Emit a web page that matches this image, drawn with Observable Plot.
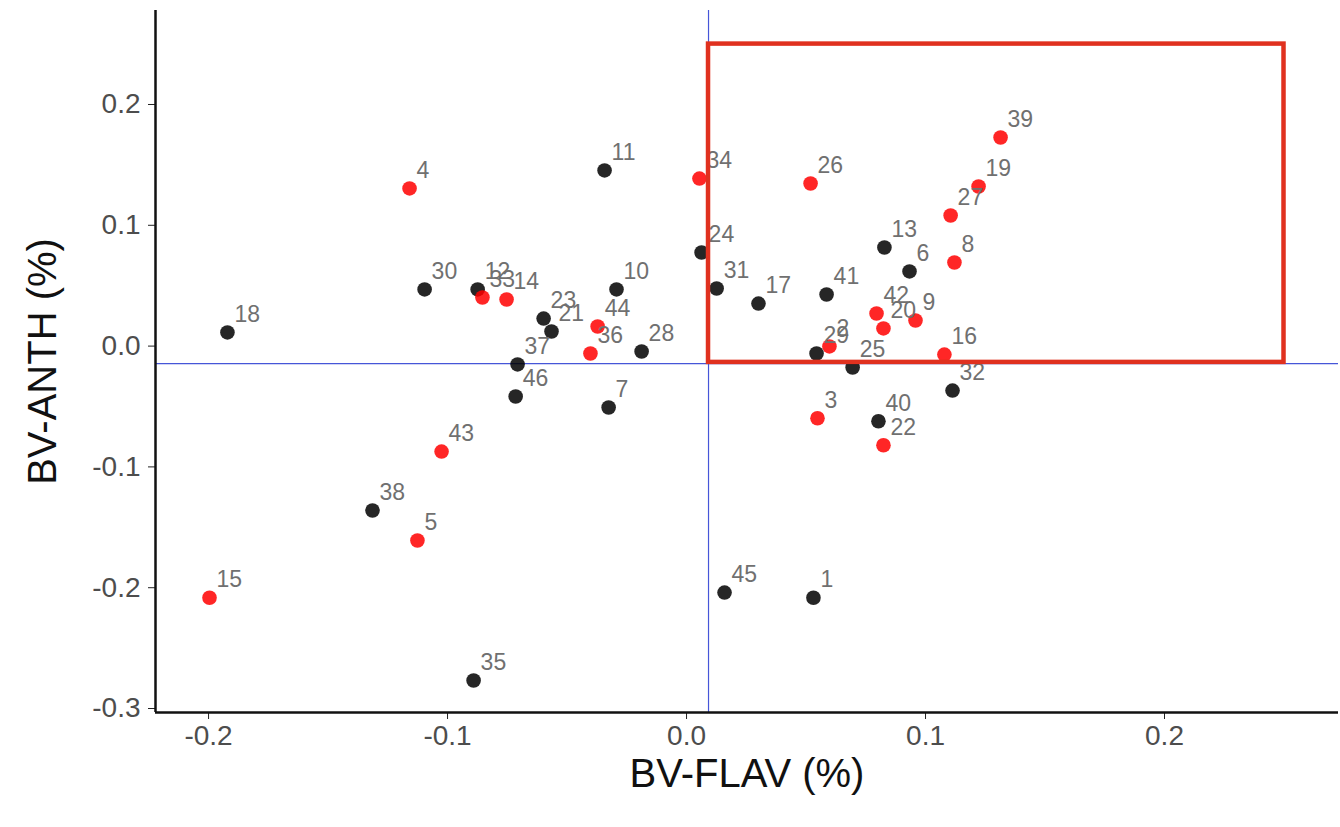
<!DOCTYPE html>
<html>
<head>
<meta charset="utf-8">
<script src="https://cdn.jsdelivr.net/npm/d3@7"></script>
<script src="https://cdn.jsdelivr.net/npm/@observablehq/plot@0.6"></script>
<style>
  html, body { margin: 0; padding: 0; background: #ffffff; }
  #chart { width: 1340px; height: 827px; }
</style>
</head>
<body>
<div id="chart"></div>
<script>
// Sample identifiers
const ids = [18, 15, 4, 30, 12, 33, 14, 38, 5, 43, 35, 37, 46, 23, 21, 44, 36, 7, 28, 10, 11, 34, 24, 31, 17, 41, 26, 13, 6, 8, 27, 19, 39, 42, 20, 9, 2, 29, 25, 16, 32, 3, 40, 22, 45, 1];
// BV-FLAV (%)
const bvFlav = [-0.1921, -0.1996, -0.1159, -0.1096, -0.0874, -0.0854, -0.0753, -0.1314, -0.1126, -0.1025, -0.0891, -0.0707, -0.0715, -0.0598, -0.0565, -0.0372, -0.0402, -0.0326, -0.0188, -0.0293, -0.0343, 0.0054, 0.0063, 0.0126, 0.0301, 0.0586, 0.0519, 0.0828, 0.0933, 0.1121, 0.1105, 0.1222, 0.1314, 0.0795, 0.0824, 0.0958, 0.0598, 0.0544, 0.0695, 0.1079, 0.1113, 0.0548, 0.0803, 0.0824, 0.0159, 0.0531];
// BV-ANTH (%)
const bvAnth = [0.0113, -0.2083, 0.1305, 0.0469, 0.0469, 0.0402, 0.0386, -0.1361, -0.1609, -0.0873, -0.2768, -0.0152, -0.0417, 0.0228, 0.0121, 0.0162, -0.0061, -0.0508, -0.0045, 0.0469, 0.1454, 0.1387, 0.0775, 0.0477, 0.0352, 0.0427, 0.1346, 0.0816, 0.0618, 0.0692, 0.1081, 0.1321, 0.1727, 0.0270, 0.0146, 0.0212, -0.0003, -0.0061, -0.0177, -0.0070, -0.0368, -0.0597, -0.0622, -0.0821, -0.2040, -0.2083];
// group: "red" or "black"
const groups = ["black", "red", "red", "black", "black", "red", "red", "black", "red", "red", "black", "black", "black", "black", "black", "red", "red", "black", "black", "black", "black", "red", "black", "black", "black", "black", "red", "black", "black", "red", "red", "red", "red", "red", "red", "red", "red", "black", "black", "red", "black", "red", "black", "red", "black", "black"];

// Reference lines and highlight box
const vLine = [0.0092];
const hLine = [-0.0145];
const boxX = [0.0092, 0.25];
const boxY = [-0.0135, 0.25];

const xTicks = [-0.2, -0.1, 0.0, 0.1, 0.2];
const yTicks = [-0.3, -0.2, -0.1, 0.0, 0.1, 0.2];
const xDomain = [-0.2222, 0.2728];
const yDomain = [-0.3033, 0.2778];

const data = ids.map((id, i) => ({id: String(id), x: bvFlav[i], y: bvAnth[i], g: groups[i]}));
const box = [{x1: boxX[0], x2: boxX[1], y1: boxY[0], y2: boxY[1]}];

const fmt = d => d.toFixed(1);

const chart = Plot.plot({
  width: 1340,
  height: 827,
  marginLeft: 155,
  marginRight: 2,
  marginTop: 10,
  marginBottom: 115,
  x: {domain: xDomain},
  y: {domain: yDomain},
  color: {domain: ["black", "red"], range: ["#353535", "#ee4a4a"]},
  style: {fontFamily: "'Liberation Sans', Arial, sans-serif", background: "#ffffff"},
  marks: [
    Plot.ruleX(vLine, {stroke: "#4656d8", strokeWidth: 1.2}),
    Plot.ruleY(hLine, {stroke: "#4656d8", strokeWidth: 1.2}),
    Plot.dot(data, {x: "x", y: "y", r: 7.3, fill: "g", fillOpacity: 0.85, stroke: "none"}),
    Plot.text(data, {x: "x", y: "y", text: "id", dx: 7, dy: -18, textAnchor: "start", fill: "#707070", fontSize: 23}),
    Plot.rect(box, {x1: "x1", x2: "x2", y1: "y1", y2: "y2", fill: "none", stroke: "#e0311f", strokeWidth: 4.5}),
    Plot.axisX({ticks: xTicks, tickFormat: fmt, tickSize: 7, tickPadding: 6, fontSize: 28, fill: "#4d4d4d", stroke: "#222", label: null}),
    Plot.axisY({ticks: yTicks, tickFormat: fmt, tickSize: 7, tickPadding: 8, fontSize: 28, fill: "#4d4d4d", stroke: "#222", label: null}),
    Plot.ruleX([xDomain[0]], {stroke: "#111", strokeWidth: 2.5}),
    Plot.ruleY([yDomain[0]], {stroke: "#111", strokeWidth: 2.5}),
    Plot.text(["BV-FLAV (%)"], {frameAnchor: "bottom", dy: 62, fontSize: 40, fill: "#111", textAnchor: "middle", lineAnchor: "middle"}),
    Plot.text(["BV-ANTH (%)"], {frameAnchor: "left", dx: -112, rotate: -90, fontSize: 40, fill: "#111", textAnchor: "middle", lineAnchor: "middle"})
  ]
});
document.getElementById("chart").appendChild(chart);
</script>
</body>
</html>
